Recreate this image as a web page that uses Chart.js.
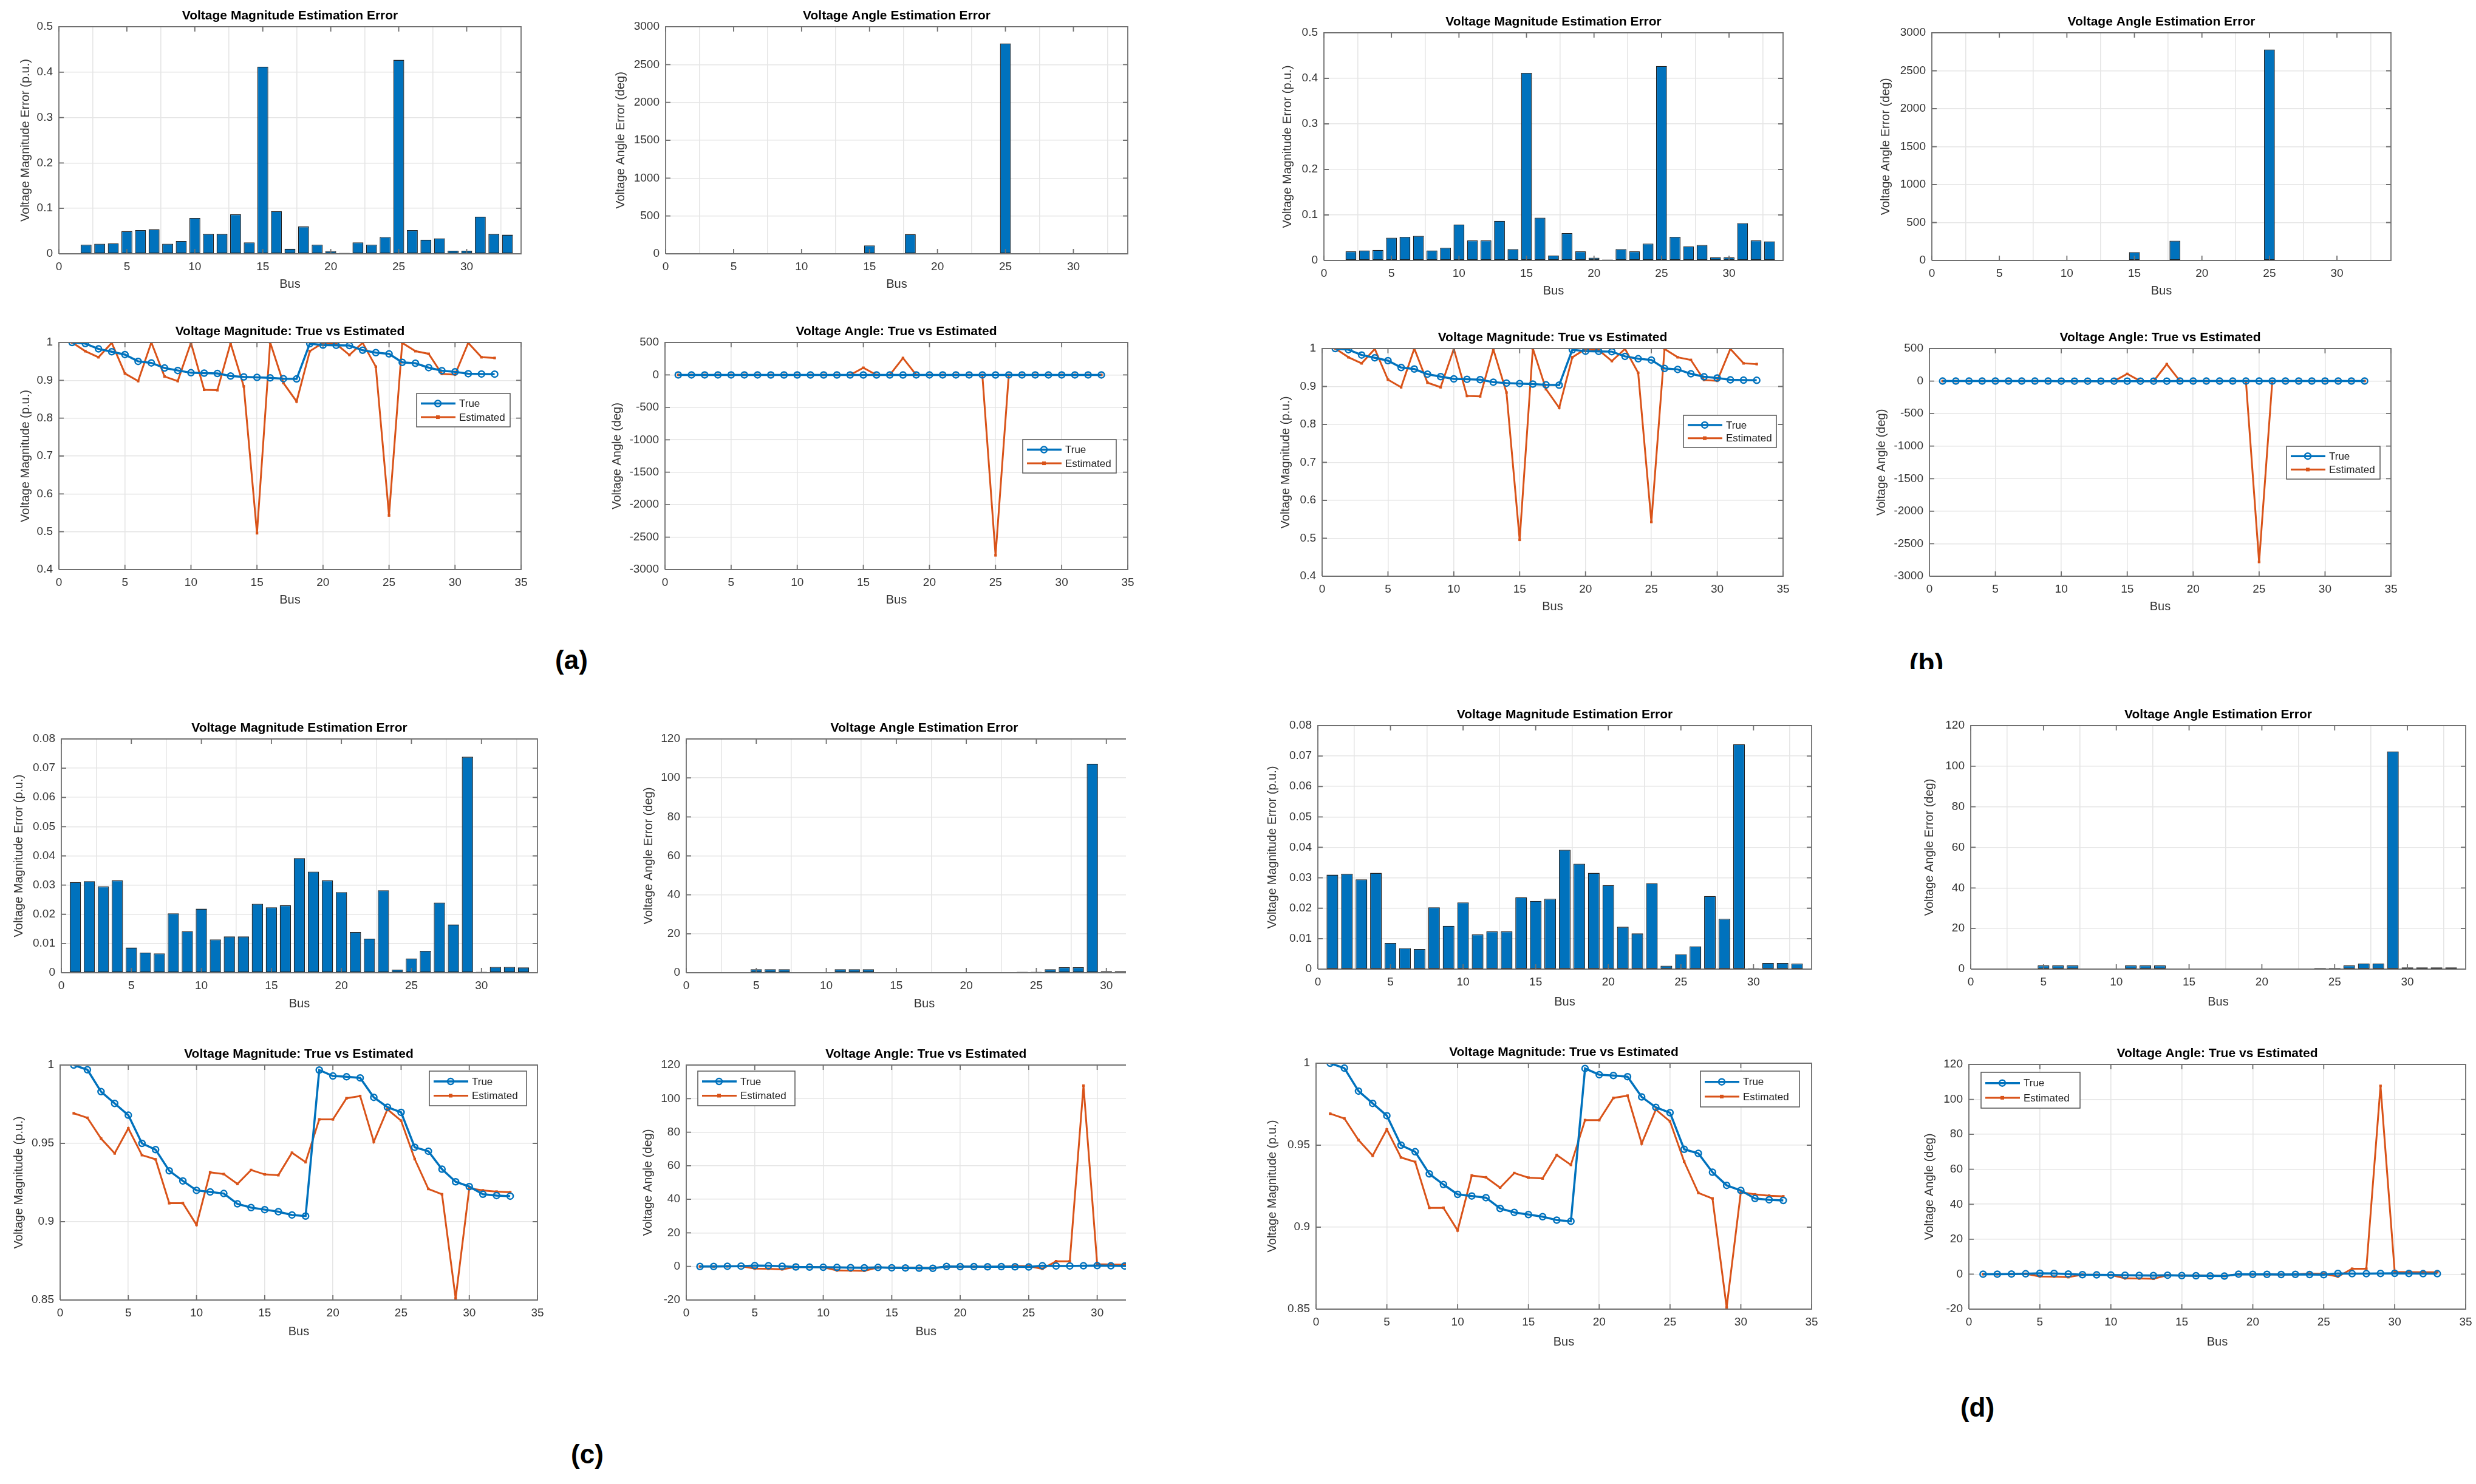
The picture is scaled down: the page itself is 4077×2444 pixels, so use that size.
<!DOCTYPE html>
<html>
<head>
<meta charset="utf-8">
<script src="https://cdn.jsdelivr.net/npm/chart.js@4.4.1/dist/chart.umd.min.js"></script>
<style>
  body { margin: 0; background: #fff; width: 4077px; height: 2444px; position: relative; overflow: hidden; }
  canvas { position: absolute; }
  .tag { position: absolute; font: bold 44px "Liberation Sans", Arial, sans-serif; color: #000; transform: translate(-50%, -50%); white-space: nowrap; }
  .clip { position: absolute; overflow: hidden; }
</style>
</head>
<body>
<div class="tag" style="left:941px;top:1087px">(a)</div>
<div class="clip" style="left:3100px;top:1060px;width:150px;height:42px"><div class="tag" style="left:72px;top:32px">(b)</div></div>
<div class="tag" style="left:967px;top:2395px">(c)</div>
<div class="tag" style="left:3256px;top:2318px">(d)</div>
<script>
// bus numbers
var buses = [1,2,3,4,5,6,7,8,9,10,11,12,13,14,15,16,17,18,19,20,21,22,23,24,25,26,27,28,29,30,31,32,33];

// true voltage magnitude and angle (same in all cases)
var vmTrue = [1.000,0.997,0.983,0.9755,0.968,0.950,0.946,0.9325,0.926,0.920,0.919,0.918,0.9114,0.909,0.9077,0.9064,0.9043,0.9036,0.9968,0.993,0.9925,0.9918,0.9794,0.9731,0.9698,0.9475,0.945,0.9335,0.9255,0.9224,0.9175,0.9167,0.9163];
var vaTrue = [0,0,0.1,0.2,0.5,0.4,0.1,-0.3,-0.4,-0.5,-0.6,-0.7,-0.8,-0.6,-0.8,-0.9,-1.0,-1.1,0,-0.1,-0.1,-0.2,-0.1,-0.2,-0.3,0.4,0.3,0.3,0.4,0.5,0.4,0.3,0.3];

// case (a)/(b)
var vmEstA = [1.000,0.977,0.961,0.999,0.918,0.898,1.000,0.910,0.898,0.999,0.875,0.874,0.998,0.884,0.496,1.000,0.893,0.844,0.977,0.999,0.996,0.967,0.999,0.936,0.543,0.999,0.977,0.970,0.917,0.915,0.999,0.961,0.959];
var vmErrA = [0,0.020,0.022,0.023,0.050,0.052,0.054,0.022,0.028,0.079,0.044,0.044,0.087,0.025,0.412,0.094,0.011,0.060,0.020,0.006,0.002,0.025,0.020,0.037,0.427,0.052,0.031,0.034,0.007,0.007,0.082,0.044,0.042];
var vaEstA = [0,0,0.1,0.2,0.5,0.4,0.1,-0.3,-0.4,-0.5,-0.6,-0.7,-0.8,-0.6,110,-0.9,-1.0,260,0,-0.1,-0.1,-0.2,-0.1,-0.2,-2780,0.4,0.3,0.3,0.4,0.5,0.4,0.3,0.3];
var vaErrA = [0,0,0,0,0,0,0,0,0,0,0,0,0,0,110,0,0,260,0,0,0,0,0,0,2780,0,0,0,0,0,0,0,0];

// case (c)/(d)
var vmEstC = [0.9692,0.9663,0.9531,0.9436,0.9596,0.9425,0.9398,0.9118,0.9118,0.898,0.9315,0.9304,0.9241,0.933,0.9302,0.9297,0.944,0.938,0.9653,0.9653,0.9788,0.9802,0.951,0.9717,0.9645,0.940,0.9209,0.9175,0.851,0.9213,0.920,0.9192,0.9188];
var vmErrC = [0.0310,0.0313,0.0295,0.0316,0.0086,0.0069,0.0066,0.0203,0.0142,0.0219,0.0114,0.0124,0.0124,0.0236,0.0224,0.0231,0.0392,0.0346,0.0316,0.0276,0.0139,0.0117,0.0282,0.0011,0.0049,0.0075,0.0240,0.0165,0.0739,0.0003,0.0020,0.0020,0.0018];
var vaEstC = [0,0,0.1,0.2,-1.3,-1.4,-1.7,-0.3,-0.4,-0.5,-2.4,-2.5,-2.6,-0.6,-0.8,-0.9,-1.0,-1.1,0,-0.1,-0.1,-0.2,-0.1,0.3,0.2,-1.4,3.1,3.1,107.7,1.3,1.2,1.1,1.1];
var vaErrC = [0,0,0,0,1.8,1.8,1.8,0,0,0,1.8,1.8,1.8,0,0,0,0,0,0,0,0,0,0,0.5,0.5,1.8,2.8,2.8,107.3,0.8,0.8,0.8,0.8];

var BLUE = '#0072BD', ORANGE = '#D95319';
var FONT = '"Liberation Sans", Arial, sans-serif';
var T_MB = 'Voltage Magnitude Estimation Error', T_AB = 'Voltage Angle Estimation Error';
var T_ML = 'Voltage Magnitude: True vs Estimated', T_AL = 'Voltage Angle: True vs Estimated';
var Y_MB = 'Voltage Magnitude Error (p.u.)', Y_AB = 'Voltage Angle Error (deg)';
var Y_ML = 'Voltage Magnitude (p.u.)', Y_AL = 'Voltage Angle (deg)';

var panels = [
  // (a)
  {kind:'bar', box:[97,44,858,418], xr:[0,34], yr:[0,0.5,0.1], title:T_MB, yt:Y_MB, yOff:55, busDy:50, err:vmErrA},
  {kind:'bar', box:[1096,44,1857,418], xr:[0,34], yr:[0,3000,500], title:T_AB, yt:Y_AB, yOff:74, busDy:50, err:vaErrA},
  {kind:'line', box:[97,564,858,938], xr:[0,35], yr:[0.4,1,0.1], title:T_ML, yt:Y_ML, yOff:55, busDy:50, tru:vmTrue, est:vmEstA, legend:{side:'right', dx:18, dy:84, w:154, h:55}},
  {kind:'line', box:[1095,564,1857,938], xr:[0,35], yr:[-3000,500,500], title:T_AL, yt:Y_AL, yOff:79, busDy:50, tru:vaTrue, est:vaEstA, legend:{side:'right', dx:19, dy:160, w:154, h:55}},
  // (b)
  {kind:'bar', box:[2180,54,2936,429], xr:[0,34], yr:[0,0.5,0.1], title:T_MB, yt:Y_MB, yOff:60, busDy:50, err:vmErrA},
  {kind:'bar', box:[3181,54,3937,429], xr:[0,34], yr:[0,3000,500], title:T_AB, yt:Y_AB, yOff:76, busDy:50, err:vaErrA},
  {kind:'line', box:[2177,574,2936,949], xr:[0,35], yr:[0.4,1,0.1], title:T_ML, yt:Y_ML, yOff:60, busDy:50, tru:vmTrue, est:vmEstA, legend:{side:'right', dx:11, dy:110, w:153, h:53}},
  {kind:'line', box:[3177,574,3937,949], xr:[0,35], yr:[-3000,500,500], title:T_AL, yt:Y_AL, yOff:79, busDy:50, tru:vaTrue, est:vaEstA, legend:{side:'right', dx:18, dy:161, w:154, h:54}},
  // (c)
  {kind:'bar', box:[101,1217,885,1602], xr:[0,34], yr:[0,0.08,0.01], title:T_MB, yt:Y_MB, yOff:70, busDy:51, err:vmErrC},
  {kind:'bar', box:[1130,1217,1854,1602], xr:[0,31.4], full:34, yr:[0,120,20], title:T_AB, yt:Y_AB, yOff:62, busDy:51, err:vaErrC, noRight:true},
  {kind:'line', box:[99,1754,885,2141], xr:[0,35], yr:[0.85,1,0.05], title:T_ML, yt:Y_ML, yOff:68, busDy:52, tru:vmTrue, est:vmEstC, legend:{side:'right', dx:18, dy:10, w:160, h:57}},
  {kind:'line', box:[1130,1754,1854,2141], xr:[0,32.1], full:35, yr:[-20,120,20], title:T_AL, yt:Y_AL, yOff:63, busDy:52, tru:vaTrue, est:vaEstC, noRight:true, legend:{side:'left', dx:19, dy:10, w:160, h:57}},
  // (d)
  {kind:'bar', box:[2170,1195,2983,1596], xr:[0,34], yr:[0,0.08,0.01], title:T_MB, yt:Y_MB, yOff:75, busDy:54, err:vmErrC},
  {kind:'bar', box:[3245,1195,4060,1596], xr:[0,34], yr:[0,120,20], title:T_AB, yt:Y_AB, yOff:68, busDy:54, err:vaErrC},
  {kind:'line', box:[2167,1751,2983,2156], xr:[0,35], yr:[0.85,1,0.05], title:T_ML, yt:Y_ML, yOff:72, busDy:54, tru:vmTrue, est:vmEstC, legend:{side:'right', dx:20, dy:13, w:163, h:59}},
  {kind:'line', box:[3242,1753,4060,2156], xr:[0,35], yr:[-20,120,20], title:T_AL, yt:Y_AL, yOff:65, busDy:54, tru:vaTrue, est:vaEstC, legend:{side:'left', dx:20, dy:13, w:163, h:59}}
];

function pts(arr) {
  return buses.map(function(b, i) { return {x: b, y: arr[i]}; });
}

function drawMarker(ctx, kind, x, y, color) {
  ctx.save();
  if (kind === 'circle') {
    ctx.strokeStyle = color; ctx.lineWidth = 2.5;
    ctx.beginPath(); ctx.arc(x, y, 5, 0, Math.PI * 2); ctx.stroke();
  } else {
    ctx.fillStyle = color;
    ctx.fillRect(x - 3, y - 3, 6, 6);
  }
  ctx.restore();
}

// matlab look: box, inward ticks, titles, legend
var matlabPlugin = {
  id: 'matlab',
  afterDraw: function(chart) {
    var o = chart.options.plugins.matlab;
    var ctx = chart.ctx, a = chart.chartArea;
    var xs = chart.scales.x, ys = chart.scales.y, L = 8;
    ctx.save();
    ctx.strokeStyle = '#707070';
    ctx.lineWidth = 1.8;
    ctx.beginPath();
    ctx.moveTo(a.left, a.bottom); ctx.lineTo(a.left, a.top); ctx.lineTo(a.right, a.top);
    if (!o.noRight) { ctx.lineTo(a.right, a.bottom); } else { ctx.moveTo(a.right, a.bottom); }
    ctx.lineTo(a.left, a.bottom);
    ctx.stroke();
    ctx.beginPath();
    xs.ticks.forEach(function(t) {
      var px = xs.getPixelForValue(t.value);
      ctx.moveTo(px, a.bottom); ctx.lineTo(px, a.bottom - L);
      ctx.moveTo(px, a.top); ctx.lineTo(px, a.top + L);
    });
    ys.ticks.forEach(function(t) {
      var py = ys.getPixelForValue(t.value);
      ctx.moveTo(a.left, py); ctx.lineTo(a.left + L, py);
      if (!o.noRight) { ctx.moveTo(a.right, py); ctx.lineTo(a.right - L, py); }
    });
    ctx.stroke();

    var cx = xs.getPixelForValue(o.full / 2);
    ctx.textAlign = 'center';
    ctx.textBaseline = 'middle';
    ctx.fillStyle = '#000';
    ctx.font = 'bold 21px ' + FONT;
    ctx.fillText(o.title, cx, a.top - 18);
    ctx.fillStyle = '#333';
    ctx.font = '20px ' + FONT;
    ctx.fillText('Bus', cx, a.bottom + o.busDy);
    ctx.save();
    ctx.translate(a.left - o.yOff, (a.top + a.bottom) / 2);
    ctx.rotate(-Math.PI / 2);
    ctx.fillText(o.yt, 0, 0);
    ctx.restore();

    if (o.legend) {
      var lg = o.legend;
      var x0 = lg.side === 'left' ? a.left + lg.dx : a.right - lg.dx - lg.w;
      var y0 = a.top + lg.dy;
      ctx.fillStyle = '#fff';
      ctx.fillRect(x0, y0, lg.w, lg.h);
      ctx.strokeStyle = '#555';
      ctx.lineWidth = 1.5;
      ctx.strokeRect(x0, y0, lg.w, lg.h);
      chart.data.datasets.forEach(function(ds, i) {
        var yy = y0 + lg.h * (i === 0 ? 0.3 : 0.71);
        ctx.strokeStyle = ds.borderColor;
        ctx.lineWidth = ds.borderWidth;
        ctx.beginPath(); ctx.moveTo(x0 + 7, yy); ctx.lineTo(x0 + 64, yy); ctx.stroke();
        drawMarker(ctx, i === 0 ? 'circle' : 'rect', x0 + 35, yy, ds.borderColor);
        ctx.fillStyle = '#222';
        ctx.font = '17px ' + FONT;
        ctx.textAlign = 'left';
        ctx.fillText(ds.label, x0 + 70, yy + 1);
      });
    }
    ctx.restore();
  }
};

Chart.defaults.font.family = FONT;
Chart.defaults.font.size = 19;
Chart.defaults.color = '#333';

panels.forEach(function(p) {
  var l = p.box[0], t = p.box[1], r = p.box[2], b = p.box[3];
  var yw = p.yOff + 16, top = 40, xh = 36, right = 25;
  var W = (r - l) + yw + right, H = (b - t) + top + p.busDy + 22;
  var cv = document.createElement('canvas');
  cv.width = W; cv.height = H;
  cv.style.left = (l - yw) + 'px';
  cv.style.top = (t - top) + 'px';
  cv.style.width = W + 'px';
  cv.style.height = H + 'px';
  document.body.appendChild(cv);

  var datasets;
  if (p.kind === 'bar') {
    datasets = [{
      data: pts(p.err),
      backgroundColor: BLUE,
      borderColor: '#1f1f1f',
      borderWidth: 1.3,
      borderSkipped: false,
      barPercentage: 0.8,
      categoryPercentage: 1
    }];
  } else {
    datasets = [
      {label: 'True', data: pts(p.tru), borderColor: BLUE, backgroundColor: BLUE, borderWidth: 3.5,
       pointStyle: 'circle', pointRadius: 5, pointBorderWidth: 2.5, pointBackgroundColor: 'rgba(0,0,0,0)', pointBorderColor: BLUE},
      {label: 'Estimated', data: pts(p.est), borderColor: ORANGE, backgroundColor: ORANGE, borderWidth: 3,
       pointStyle: 'rect', pointRadius: 3, pointBorderWidth: 0, pointBackgroundColor: ORANGE}
    ];
  }

  var fitY = function(s) { s.width = yw; };
  var fitX = function(s) { s.height = xh; };
  var fmt = function(v) { return String(+v.toFixed(4)); };

  new Chart(cv, {
    type: p.kind,
    data: {datasets: datasets},
    options: {
      responsive: false,
      animation: false,
      devicePixelRatio: 1,
      layout: {padding: {top: top, right: right, bottom: p.busDy + 22 - xh, left: 0}},
      plugins: {
        legend: {display: false},
        tooltip: {enabled: false},
        matlab: {title: p.title, yt: p.yt, yOff: p.yOff, busDy: p.busDy, full: p.full || p.xr[1],
                 noRight: p.noRight, legend: p.legend}
      },
      scales: {
        x: {
          type: 'linear', min: p.xr[0], max: p.xr[1], offset: false,
          grid: {color: '#e6e6e6', lineWidth: 1.6, drawTicks: false},
          border: {display: false},
          ticks: {stepSize: 5, includeBounds: false, padding: 10, callback: fmt, maxRotation: 0},
          afterFit: fitX
        },
        y: {
          type: 'linear', min: p.yr[0], max: p.yr[1],
          grid: {color: '#e6e6e6', lineWidth: 1.6, drawTicks: false},
          border: {display: false},
          ticks: {stepSize: p.yr[2], padding: 10, callback: fmt},
          afterFit: fitY
        }
      }
    },
    plugins: [matlabPlugin]
  });
});
</script>
</body>
</html>
